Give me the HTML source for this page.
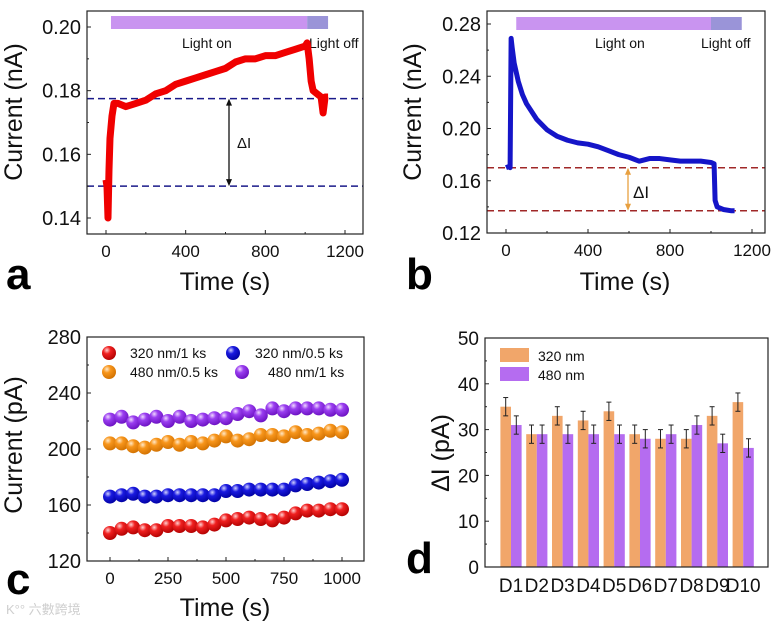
<!DOCTYPE html>
<html><head><meta charset="utf-8">
<style>
html,body{margin:0;padding:0;background:#fff;}
svg{display:block;font-family:"Liberation Sans",Arial,sans-serif;}
</style></head>
<body>
<svg id="fig" width="780" height="629" viewBox="0 0 780 629" xmlns="http://www.w3.org/2000/svg">
<defs>
<radialGradient id="gRed" cx="0.35" cy="0.3" r="0.75"><stop offset="0" stop-color="#ffd0d0"/><stop offset="0.35" stop-color="#f02020"/><stop offset="1" stop-color="#b00000"/></radialGradient>
<radialGradient id="gBlue" cx="0.35" cy="0.3" r="0.75"><stop offset="0" stop-color="#d0d0ff"/><stop offset="0.35" stop-color="#1a1ae0"/><stop offset="1" stop-color="#0000a0"/></radialGradient>
<radialGradient id="gOrange" cx="0.35" cy="0.3" r="0.75"><stop offset="0" stop-color="#ffe8c8"/><stop offset="0.35" stop-color="#f8961c"/><stop offset="1" stop-color="#d07000"/></radialGradient>
<radialGradient id="gPurple" cx="0.35" cy="0.3" r="0.75"><stop offset="0" stop-color="#f0d8ff"/><stop offset="0.35" stop-color="#9a3ef0"/><stop offset="1" stop-color="#6a10c0"/></radialGradient>
</defs>
<g id="pa"></g>
<g id="pb"></g>
<g id="pc"></g>
<g id="pd"></g>
<text x="6" y="614" font-size="13" fill="#cfcfcf">K°° 六數跨境</text>
</svg>
<script>
// ---------- Panel a data ----------
const aTime = [0,5,10,15,20,30,40,60,100,150,200,250,300,350,400,450,500,550,600,650,700,750,800,850,900,950,1000,1010,1020,1030,1040,1060,1080,1090,1100,1115];
const aCurrent = [0.152,0.150,0.140,0.155,0.165,0.172,0.176,0.176,0.175,0.176,0.177,0.179,0.180,0.182,0.183,0.184,0.185,0.186,0.187,0.189,0.190,0.190,0.191,0.191,0.192,0.193,0.194,0.195,0.190,0.183,0.180,0.179,0.178,0.173,0.178,0.178];
const aYTicks = [0.14,0.16,0.18,0.20];
const aXTicks = [0,400,800,1200];
const aDash = [0.1775,0.150];
// ---------- Panel b data ----------
const bTime = [0,15,20,25,30,40,60,80,100,150,200,250,300,350,400,450,500,550,600,650,700,750,800,850,900,950,1000,1015,1020,1030,1060,1100,1115];
const bCurrent = [0.170,0.171,0.170,0.269,0.262,0.250,0.236,0.226,0.219,0.207,0.199,0.194,0.191,0.189,0.188,0.186,0.183,0.180,0.178,0.175,0.177,0.177,0.176,0.175,0.175,0.175,0.174,0.173,0.145,0.140,0.138,0.137,0.137];
const bYTicks = [0.12,0.16,0.20,0.24,0.28];
const bXTicks = [0,400,800,1200];
const bDash = [0.170,0.137];
// ---------- Panel c data ----------
const cTime = [0,50,100,150,200,250,300,350,400,450,500,550,600,650,700,750,800,850,900,950,1000];
const cRed = [140,143,144,142,142,145,145,145,144,146,149,150,151,150,149,151,154,156,156,157,157];
const cBlue = [166,167,168,166,166,167,167,167,167,167,170,170,171,171,171,171,174,175,176,177,178];
const cOrange = [204,204,202,201,203,205,203,205,204,206,209,206,207,210,210,209,212,210,211,213,212];
const cPurple = [221,223,219,221,223,220,223,220,221,222,222,225,227,224,229,227,229,229,229,228,228];
const cYTicks = [120,160,200,240,280];
const cXTicks = [0,250,500,750,1000];
// ---------- Panel d data ----------
const dCats = ["D1","D2","D3","D4","D5","D6","D7","D8","D9","D10"];
const d320 = [35,29,33,32,34,29,28,28,33,36];
const d480 = [31,29,29,29,29,28,29,31,27,26];
const dErr320 = [2,2,2,2,2,2,2,2,2,2];
const dErr480 = [2,2,2,2,2,2,2,2,2,2];
const dYTicks = [0,10,20,30,40,50];

const NS="http://www.w3.org/2000/svg";
function mk(parent,tag,attrs,text){const e=document.createElementNS(NS,tag);for(const k in attrs)e.setAttribute(k,attrs[k]);if(text!==undefined)e.textContent=text;parent.appendChild(e);return e;}
function lin(d0,d1,r0,r1){return v=>r0+(v-d0)*(r1-r0)/(d1-d0);}

function frame(g,x0,y0,x1,y1,sx,sy,xt,yt,xfmt,yfmt,minorX,minorY){
  let f=mk(g,'rect',{x:x0,y:y0,width:x1-x0,height:y1-y0,fill:'none',stroke:'#222','stroke-width':1.2});
  
  
  xt.forEach(v=>{const x=sx(v);
    let t=mk(g,'line',{x1:x,x2:x,y1:y1,y2:y1-4,stroke:'#222'});
    
    
    let l=mk(g,'text',{x:x,y:y1+23,'font-size':17,'text-anchor':'middle',fill:'#111'},xfmt(v));
    
    });
  (minorX||[]).forEach(v=>{const x=sx(v);mk(g,'line',{x1:x,x2:x,y1:y1,y2:y1-2,stroke:'#222'});});
  yt.forEach(v=>{const y=sy(v);
    let t=mk(g,'line',{x1:x0,x2:x0+4,y1:y,y2:y,stroke:'#222'});
    
    
    let l=mk(g,'text',{x:x0-6,y:y+7,'font-size':20,'text-anchor':'end',fill:'#111'},yfmt(v));
    
    });
  (minorY||[]).forEach(v=>{const y=sy(v);mk(g,'line',{x1:x0,x2:x0+2,y1:y,y2:y,stroke:'#222'});});
}
function titles(g,xx,xy,xt,yx,yy,yt,letter,lx,ly){
  let a=mk(g,'text',{x:xx,y:xy,'font-size':25,'text-anchor':'middle',fill:'#111'},xt);
  
  let b=mk(g,'text',{x:0,y:0,'font-size':25,'text-anchor':'middle',fill:'#111',transform:`translate(${yx},${yy}) rotate(-90)`},yt);
  
  let c=mk(g,'text',{x:lx,y:ly,'font-size':44,'font-weight':'bold',fill:'#000'},letter);
  
}
function lightBar(g,sx,yTop,t0,t1,t2,onX,offX,ty){
  let r1=mk(g,'rect',{x:sx(t0),y:yTop,width:sx(t1)-sx(t0),height:13,fill:'#c994f0'});
  
  let r2=mk(g,'rect',{x:sx(t1),y:yTop,width:sx(t2)-sx(t1),height:13,fill:'#9a94d8'});
  
  let a=mk(g,'text',{x:onX,y:ty,'font-size':14,fill:'#111'},'Light on');
  
  let b=mk(g,'text',{x:offX,y:ty,'font-size':14,fill:'#111'},'Light off');
  
}
function arrow(g,x,y1,y2,col){
  let l=mk(g,'line',{x1:x,x2:x,y1:y1+4,y2:y2-4,stroke:col,'stroke-width':1.3});
  
  mk(g,'path',{d:`M${x-3},${y1+7} L${x},${y1} L${x+3},${y1+7}Z`,fill:col});
  mk(g,'path',{d:`M${x-3},${y2-7} L${x},${y2} L${x+3},${y2-7}Z`,fill:col});
}

// ---- Panel a ----
(function(){
  const g=document.getElementById('pa');
  const x0=87,x1=363,y0=11,y1=234;
  const sx=lin(0,1200,106,345), sy=lin(0.14,0.20,218,27);
  lightBar(g,sx,16,25,1010,1115,182,309,48);
  aDash.forEach(v=>{let d=mk(g,'line',{x1:x0,x2:x1,y1:sy(v),y2:sy(v),stroke:'#1a1a8a','stroke-width':1.5,'stroke-dasharray':'7,4'});
    });
  let p=mk(g,'polyline',{points:aTime.map((t,i)=>sx(t)+','+sy(aCurrent[i])).join(' '),fill:'none',stroke:'#f00000','stroke-width':7,'stroke-linejoin':'round'});
  
  arrow(g,229,sy(aDash[0]),sy(aDash[1]),'#111');
  let dl=mk(g,'text',{x:237,y:148,'font-size':15,fill:'#111'},'ΔI');
  
  frame(g,x0,y0,x1,y1,sx,sy,aXTicks,aYTicks,v=>String(v),v=>v.toFixed(2),[200,600,1000],[0.15,0.17,0.19]);
  titles(g,225,290,'Time (s)',22,112,'Current (nA)','a',6,289);
})();
// ---- Panel b ----
(function(){
  const g=document.getElementById('pb');
  const x0=487,x1=765,y0=11,y1=233;
  const sx=lin(0,1200,506,752), sy=lin(0.12,0.28,233,24);
  lightBar(g,sx,17,50,1000,1150,595,701,48);
  bDash.forEach(v=>{let d=mk(g,'line',{x1:x0,x2:x1,y1:sy(v),y2:sy(v),stroke:'#a02828','stroke-width':1.5,'stroke-dasharray':'7,4'});
    });
  let p=mk(g,'polyline',{points:bTime.map((t,i)=>sx(t)+','+sy(bCurrent[i])).join(' '),fill:'none',stroke:'#1515c8','stroke-width':5,'stroke-linejoin':'round'});
  
  arrow(g,628,sy(bDash[0]),sy(bDash[1]),'#e8a040');
  let dl=mk(g,'text',{x:633,y:198,'font-size':17,fill:'#111'},'ΔI');
  
  frame(g,x0,y0,x1,y1,sx,sy,bXTicks,bYTicks,v=>String(v),v=>v.toFixed(2),[200,600,1000],[0.14,0.18,0.22,0.26]);
  titles(g,625,290,'Time (s)',421,112,'Current (nA)','b',406,289);
})();
// ---- Panel c ----
(function(){
  const g=document.getElementById('pc');
  const x0=87,x1=364,y0=337,y1=561;
  const sx=lin(0,1000,110,342), sy=lin(120,280,561,337);
  const series=[[cRed,'url(#gRed)','series-320nm-1ks'],[cBlue,'url(#gBlue)','series-320nm-0.5ks'],[cOrange,'url(#gOrange)','series-480nm-0.5ks'],[cPurple,'url(#gPurple)','series-480nm-1ks']];
  series.forEach(s=>{
    const sg=mk(g,'g',{});
    
    cTime.forEach((t,i)=>{let c=mk(sg,'circle',{cx:sx(t),cy:sy(s[0][i]),r:7,fill:s[1]});
      });
  });
  const leg=[[109,353,'url(#gRed)','320 nm/1 ks',130],[233,353,'url(#gBlue)','320 nm/0.5 ks',255],[109,372,'url(#gOrange)','480 nm/0.5 ks',130],[242,372,'url(#gPurple)','480 nm/1 ks',268]];
  leg.forEach(l=>{const lg=mk(g,'g',{});
    
    mk(lg,'circle',{cx:l[0],cy:l[1],r:7,fill:l[2]});
    mk(lg,'text',{x:l[4],y:l[1]+5,'font-size':14,fill:'#111'},l[3]);});
  frame(g,x0,y0,x1,y1,sx,sy,cXTicks,cYTicks,v=>String(v),v=>String(v),[125,375,625,875],[140,180,220,260]);
  titles(g,225,616,'Time (s)',22,445,'Current (pA)','c',6,594);
})();
// ---- Panel d ----
(function(){
  const g=document.getElementById('pd');
  const x0=485,x1=768,y0=338,y1=567;
  const sy=lin(0,50,567,338);
  const cx=i=>511+i*25.8, bw=10.6;
  dCats.forEach((c,i)=>{
    const xc=cx(i);
    let b1=mk(g,'rect',{x:xc-bw,y:sy(d320[i]),width:bw,height:y1-sy(d320[i]),fill:'#f1a66a'});
    
    let b2=mk(g,'rect',{x:xc,y:sy(d480[i]),width:bw,height:y1-sy(d480[i]),fill:'#b56cf0'});
    
    [[xc-bw/2,d320[i],dErr320[i]],[xc+bw/2,d480[i],dErr480[i]]].forEach(e=>{
      const eg=mk(g,'g',{stroke:'#222','stroke-width':1});
      
      mk(eg,'line',{x1:e[0],x2:e[0],y1:sy(e[1]+e[2]),y2:sy(e[1]-e[2])});
      mk(eg,'line',{x1:e[0]-2.5,x2:e[0]+2.5,y1:sy(e[1]+e[2]),y2:sy(e[1]+e[2])});
      mk(eg,'line',{x1:e[0]-2.5,x2:e[0]+2.5,y1:sy(e[1]-e[2]),y2:sy(e[1]-e[2])});
    });
    let l=mk(g,'text',{x:xc,y:592,'font-size':19,'text-anchor':'middle',fill:'#111'},c);
    
  });
  let f=mk(g,'rect',{x:x0,y:y0,width:x1-x0,height:y1-y0,fill:'none',stroke:'#222','stroke-width':1.2});
  
  dYTicks.forEach(v=>{const y=sy(v);
    mk(g,'line',{x1:x0,x2:x0+4,y1:y,y2:y,stroke:'#222'});
    let l=mk(g,'text',{x:x0-6,y:y+7,'font-size':19,'text-anchor':'end',fill:'#111'},String(v));
    });
  [5,15,25,35,45].forEach(v=>mk(g,'line',{x1:x0,x2:x0+2,y1:sy(v),y2:sy(v),stroke:'#222'}));
  const lg1=mk(g,'g',{});
  mk(lg1,'rect',{x:500,y:348,width:29,height:14,fill:'#f1a66a'});
  mk(lg1,'text',{x:538,y:361,'font-size':14,fill:'#111'},'320 nm');
  const lg2=mk(g,'g',{});
  mk(lg2,'rect',{x:500,y:367,width:29,height:14,fill:'#b56cf0'});
  mk(lg2,'text',{x:538,y:380,'font-size':14,fill:'#111'},'480 nm');
  let yt=mk(g,'text',{x:0,y:0,'font-size':25,'text-anchor':'middle',fill:'#111',transform:'translate(449,453) rotate(-90)'},'ΔI (pA)');
  
  let c=mk(g,'text',{x:406,y:573,'font-size':44,'font-weight':'bold',fill:'#000'},'d');
  
})();
</script>
</body></html>
